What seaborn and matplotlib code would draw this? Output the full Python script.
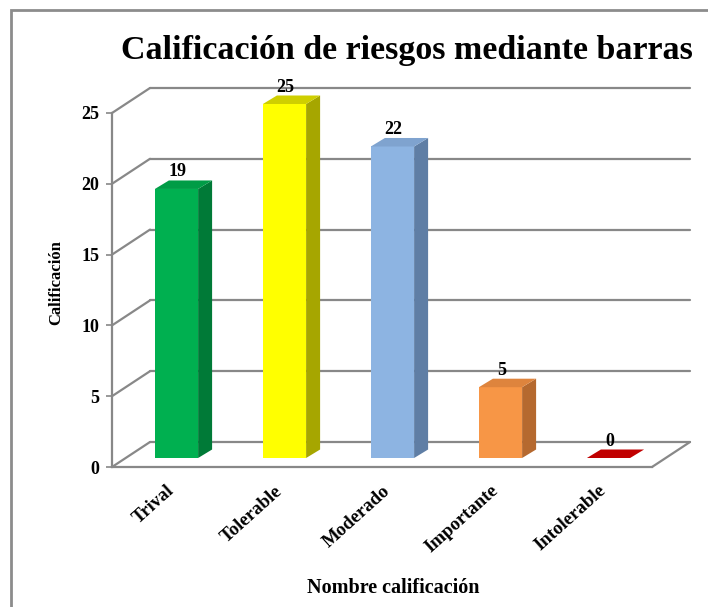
import numpy as np
import pandas as pd
import seaborn as sns
import matplotlib
matplotlib.use('Agg')
import matplotlib.pyplot as plt
from matplotlib.patches import Polygon, Rectangle
from matplotlib.lines import Line2D
from matplotlib.transforms import IdentityTransform, ScaledTranslation


# data
categories   = ['Trival', 'Tolerable', 'Moderado', 'Importante', 'Intolerable']
values       = [19, 25, 22, 5, 0]
front_colors = ['#00B050', '#FFFF00', '#8DB4E2', '#F79646', '#C00000']
side_colors  = ['#007A37', '#A6A600', '#5F7EA5', '#B5692F', '#800000']
top_colors   = ['#009C46', '#CFCF00', '#7FA3CF', '#DE843D', '#C00000']
y_ticks      = [0, 5, 10, 15, 20, 25]

title  = 'Calificación de riesgos mediante barras'
xlabel = 'Nombre calificación'
ylabel = 'Calificación'

GRID  = '#888888'
DPI   = 100
WALL  = np.array([38.0, 25.0])    # back wall offset (px)
SHIFT = np.array([10.5, 9.0])     # bar position inside the floor depth (px)
DEPTH = np.array([14.0, 8.5])     # bar depth (px)
BAR_W = 0.4

sns.set_style('white')
plt.rcParams['font.family'] = ['Liberation Serif', 'DejaVu Serif']
plt.rcParams['font.weight'] = 'bold'
plt.rcParams['text.color'] = 'black'
plt.rcParams['xtick.color'] = 'black'
plt.rcParams['ytick.color'] = 'black'

fig = plt.figure(figsize=(7.08, 6.07), dpi=DPI)
ax = fig.add_axes([112 / 708, 140 / 607, 540 / 708, 354 / 607])

df = pd.DataFrame({'cat': categories, 'val': values})
sns.barplot(data=df, x='cat', y='val', hue='cat', palette=front_colors,
            width=BAR_W, saturation=1, legend=False, ax=ax, zorder=3)
ax.set_xlim(-0.5, len(categories) - 0.5)
ax.set_ylim(0, 25)

# front faces pushed into the floor depth
shift_tr = ScaledTranslation(SHIFT[0] / DPI, SHIFT[1] / DPI, fig.dpi_scale_trans)
for p in ax.patches:
    p.set_transform(ax.transData + shift_tr)
    p.set_clip_on(False)
    p.set_linewidth(0)


def disp(x, y):
    return ax.transData.transform((x, y))


ident = IdentityTransform()

# back wall gridlines, left wall diagonals, floor edge
x_lo, x_hi = ax.get_xlim()
for t in y_ticks:
    a = disp(x_lo, t)
    b = disp(x_hi, t)
    ax.add_line(Line2D([a[0] + WALL[0], b[0] + WALL[0]], [a[1] + WALL[1], b[1] + WALL[1]],
                       transform=ident, color=GRID, lw=1.6, zorder=1, clip_on=False))
    ax.add_line(Line2D([a[0], a[0] + WALL[0]], [a[1], a[1] + WALL[1]],
                       transform=ident, color=GRID, lw=1.6, zorder=1, clip_on=False))
b = disp(x_hi, 0)
ax.add_line(Line2D([b[0], b[0] + WALL[0]], [b[1], b[1] + WALL[1]],
                   transform=ident, color=GRID, lw=1.6, zorder=1, clip_on=False))

# side and top faces of every bar
for i, v in enumerate(values):
    x0, x1 = i - BAR_W / 2, i + BAR_W / 2
    p0 = disp(x0, v) + SHIFT
    p1 = disp(x1, v) + SHIFT
    q1 = disp(x1, 0) + SHIFT
    if v > 0:
        ax.add_patch(Polygon([q1, p1, p1 + DEPTH, q1 + DEPTH], closed=True, transform=ident,
                             facecolor=side_colors[i], lw=0, zorder=3, clip_on=False))
    ax.add_patch(Polygon([p0, p1, p1 + DEPTH, p0 + DEPTH], closed=True, transform=ident,
                         facecolor=top_colors[i], lw=0, zorder=3, clip_on=False))
    ax.annotate(str(v), xy=(i, v),
                xytext=((SHIFT[0] + 1) * 0.72, (SHIFT[1] + DEPTH[1]) * 0.72),
                textcoords='offset points', ha='center', va='bottom',
                fontsize=13, fontweight='bold', color='black', annotation_clip=False)

# axes styling
for s in ['top', 'right']:
    ax.spines[s].set_visible(False)
for s in ['left', 'bottom']:
    ax.spines[s].set_color(GRID)
    ax.spines[s].set_linewidth(1.6)
ax.set_yticks(y_ticks)
ax.set_yticklabels([str(t) for t in y_ticks], fontsize=13, fontweight='bold')
ax.tick_params(axis='y', length=4, width=1.2, color=GRID, labelcolor='black', pad=5, left=True)
ax.set_xticks(range(len(categories)))
ax.set_xticklabels(categories, rotation=42, ha='right', rotation_mode='anchor',
                   fontsize=13.5, fontweight='bold')
ax.tick_params(axis='x', length=0, pad=11, labelcolor='black')
ax.set_xlabel('')
ax.set_ylabel('')
ax.patch.set_alpha(0)

fig.text(407 / 708, 1 - 50 / 607, title, ha='center', va='center',
         fontsize=24.5, fontweight='bold', color='black')
fig.text(393 / 708, 1 - 588 / 607, xlabel, ha='center', va='center',
         fontsize=14.5, fontweight='bold', color='black')
fig.text(56 / 708, 1 - 283 / 607, ylabel, ha='center', va='center', rotation=90,
         fontsize=12, fontweight='bold', color='black')

# outer chart border
fig.add_artist(Rectangle((11 / 708, -0.05), 1.2, 1 - 10 / 607 + 0.05, transform=fig.transFigure,
                         fill=False, edgecolor='#8C8C8C', lw=2))

fig.savefig('out.png', dpi=DPI)
